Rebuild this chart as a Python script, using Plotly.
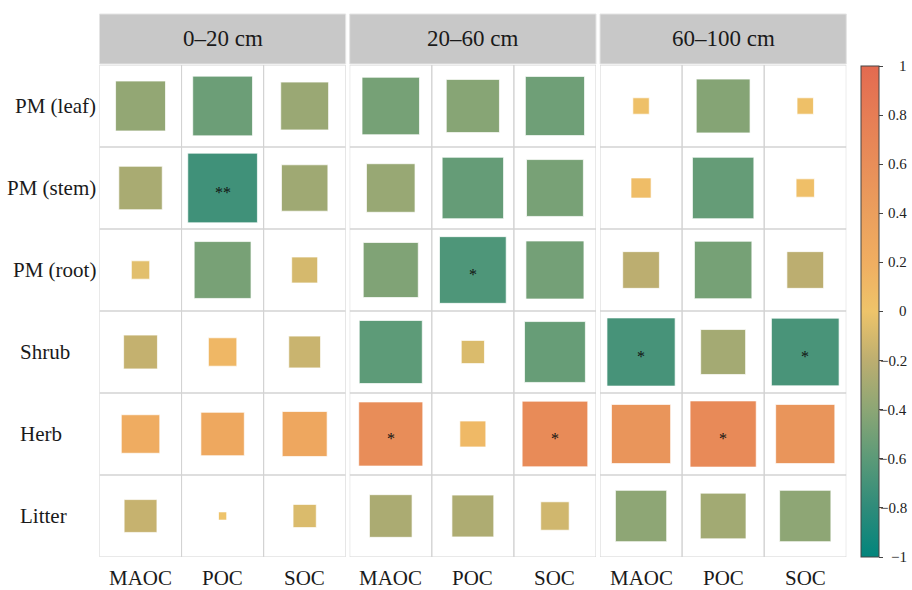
import numpy as np
import plotly.graph_objects as go

# ---- data -----------------------------------------------------------------
rows = ["PM (leaf)", "PM (stem)", "PM (root)", "Shrub", "Herb", "Litter"]
cols = ["MAOC", "POC", "SOC"]
depths = ["0–20 cm", "20–60 cm", "60–100 cm"]

# Pearson r, rows x cols, one matrix per soil depth
r_0_20 = [
    [-0.37, -0.53, -0.34],
    [-0.28, -0.72, -0.32],
    [-0.05, -0.48, -0.10],
    [-0.17, 0.12, -0.15],
    [0.22, 0.28, 0.30],
    [-0.16, 0.01, -0.08],
]
r_20_60 = [
    [-0.49, -0.42, -0.52],
    [-0.35, -0.56, -0.48],
    [-0.45, -0.66, -0.50],
    [-0.59, -0.08, -0.55],
    [0.61, 0.10, 0.64],
    [-0.27, -0.26, -0.12],
]
r_60_100 = [
    [0.04, -0.43, 0.04],
    [0.06, -0.56, 0.05],
    [-0.20, -0.49, -0.20],
    [-0.69, -0.30, -0.68],
    [0.52, 0.65, 0.52],
    [-0.39, -0.31, -0.39],
]

# significance marks
sig_0_20 = [
    ["", "", ""],
    ["", "**", ""],
    ["", "", ""],
    ["", "", ""],
    ["", "", ""],
    ["", "", ""],
]
sig_20_60 = [
    ["", "", ""],
    ["", "", ""],
    ["", "*", ""],
    ["", "", ""],
    ["*", "", "*"],
    ["", "", ""],
]
sig_60_100 = [
    ["", "", ""],
    ["", "", ""],
    ["", "", ""],
    ["*", "", "*"],
    ["", "*", ""],
    ["", "", ""],
]

cbar_ticks = [1, 0.8, 0.6, 0.4, 0.2, 0, -0.2, -0.4, -0.6, -0.8, -1]

# ---- geometry (pixels) ----------------------------------------------------
W, H = 912, 590
PANEL_X = [(99.5, 345.7), (349.7, 596.0), (600.0, 846.3)]
GRID_TOP, GRID_BOTTOM = 65.0, 557.0
STRIP_TOP, STRIP_BOTTOM = 14.0, 64.0
CELL_PX = (PANEL_X[0][1] - PANEL_X[0][0]) / len(cols)
CB_LEFT, CB_TOP, CB_BOTTOM = 861.0, 66.0, 557.0

FONT = "Liberation Serif"

colorscale = [
    [0.0, "#02857c"],
    [0.1, "#2e8b7a"],
    [0.2, "#5b9a78"],
    [0.3, "#8ca675"],
    [0.4, "#bcae70"],
    [0.5, "#eec46a"],
    [0.6, "#f0ae61"],
    [0.7, "#eb9f5d"],
    [0.8, "#e88e59"],
    [0.9, "#e67d55"],
    [1.0, "#e36a50"],
]


def px_x(v):
    return v / W


def px_y(v):
    return 1 - v / H


fig = go.Figure()
shapes = []
annotations = []

panels = [(r_0_20, sig_0_20), (r_20_60, sig_20_60), (r_60_100, sig_60_100)]
for p, (vals, sig) in enumerate(panels):
    sfx = "" if p == 0 else str(p + 1)
    xs, ys, cs, ss = [], [], [], []
    for i, _ in enumerate(rows):
        for j, _ in enumerate(cols):
            v = vals[i][j]
            xs.append(j)
            ys.append(i)
            cs.append(v)
            # square side scales with sqrt(|r|) so area is proportional to |r|
            ss.append(np.sqrt(abs(v)) * CELL_PX)
            if sig[i][j]:
                annotations.append(dict(
                    x=j, y=i, xref="x" + sfx, yref="y", text=sig[i][j],
                    showarrow=False, yshift=-4,
                    font=dict(family=FONT, size=16, color="#111111")))
            # cell outline
            shapes.append(dict(
                type="rect", xref="x" + sfx, yref="y",
                x0=j - 0.5, x1=j + 0.5, y0=i - 0.5, y1=i + 0.5,
                line=dict(color="#d3d3d3", width=1), layer="below"))

    fig.add_trace(go.Scatter(
        x=xs, y=ys, mode="markers", xaxis="x" + sfx, yaxis="y",
        hoverinfo="skip", showlegend=False,
        marker=dict(
            symbol="square", size=ss, color=cs, cmin=-1, cmax=1,
            colorscale=colorscale, opacity=1,
            line=dict(color="rgba(255,255,255,0.7)", width=1),
            showscale=(p == 2),
            colorbar=dict(
                x=px_x(CB_LEFT), xanchor="left", xpad=0,
                y=px_y((CB_TOP + CB_BOTTOM) / 2), yanchor="middle", ypad=0,
                len=CB_BOTTOM - CB_TOP, lenmode="pixels",
                thickness=18, thicknessmode="pixels",
                outlinewidth=1, outlinecolor="#444444",
                ticks="outside", ticklen=4, tickcolor="#444444",
                tickvals=cbar_ticks, showticklabels=False,
            ),
        ),
    ))

    # strip header
    x0, x1 = PANEL_X[p]
    shapes.append(dict(
        type="rect", xref="paper", yref="paper",
        x0=px_x(x0), x1=px_x(x1), y0=px_y(STRIP_BOTTOM), y1=px_y(STRIP_TOP),
        fillcolor="#c8c8c8", line=dict(color="#e4e4e4", width=1)))
    annotations.append(dict(
        x=px_x((x0 + x1) / 2), y=px_y((STRIP_TOP + STRIP_BOTTOM) / 2),
        xref="paper", yref="paper", text=depths[p], showarrow=False,
        xanchor="center", yanchor="middle",
        font=dict(family=FONT, size=23, color="#1a1a1a")))

    # column labels
    for j, c in enumerate(cols):
        annotations.append(dict(
            x=j, y=px_y(578), xref="x" + sfx, yref="paper", text=c,
            showarrow=False, xanchor="center", yanchor="middle",
            font=dict(family=FONT, size=21, color="#1a1a1a")))

# row labels: long "PM (...)" names sit flush against the grid,
# the short ones start at a common left edge
for i, rname in enumerate(rows):
    long_name = rname.startswith("PM")
    annotations.append(dict(
        x=px_x(97.5 if long_name else 17.5), y=i, xref="paper", yref="y",
        text=rname, showarrow=False,
        xanchor="right" if long_name else "left", yanchor="middle",
        font=dict(family=FONT, size=21, color="#1a1a1a")))

# colorbar tick labels, right aligned
for t in cbar_ticks:
    ypix = CB_BOTTOM - (t + 1) / 2 * (CB_BOTTOM - CB_TOP)
    annotations.append(dict(
        x=px_x(909), y=px_y(ypix), xref="paper", yref="paper",
        text=f"{t:g}".replace("-", "−"), showarrow=False,
        xanchor="right", yanchor="middle",
        font=dict(family=FONT, size=15, color="#222222")))

layout = dict(
    width=W, height=H,
    margin=dict(l=0, r=0, t=0, b=0),
    paper_bgcolor="white", plot_bgcolor="white",
    shapes=shapes, annotations=annotations,
    yaxis=dict(domain=[px_y(GRID_BOTTOM), px_y(GRID_TOP)],
               range=[len(rows) - 0.5, -0.5], visible=False, fixedrange=True),
)
for p in range(3):
    key = "xaxis" if p == 0 else f"xaxis{p + 1}"
    layout[key] = dict(domain=[px_x(PANEL_X[p][0]), px_x(PANEL_X[p][1])],
                       range=[-0.5, len(cols) - 0.5], visible=False,
                       anchor="y", fixedrange=True)

fig.update_layout(**layout)
fig.write_html("out.html")
